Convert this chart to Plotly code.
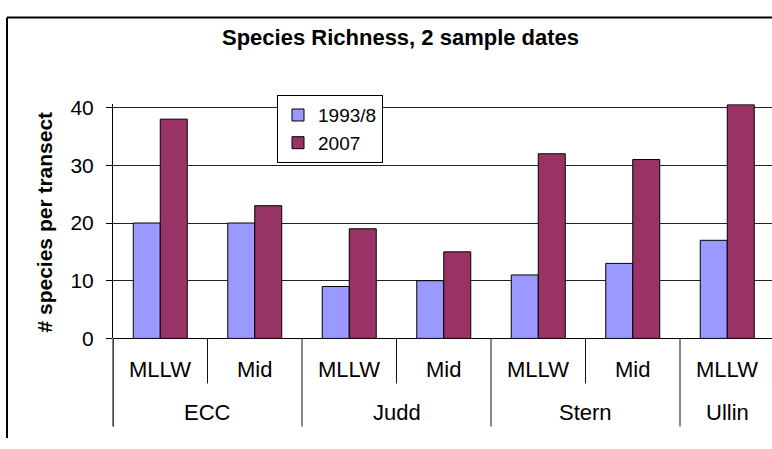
import plotly.graph_objects as go

# Species richness per transect, two sampling periods
sites = ["ECC", "ECC", "Judd", "Judd", "Stern", "Stern", "Ullin"]
zones = ["MLLW", "Mid", "MLLW", "Mid", "MLLW", "Mid", "MLLW"]
richness_1993 = [20, 20, 9, 10, 11, 13, 17]
richness_2007 = [38, 23, 19, 15, 32, 31, 40.5]
y_ticks = [0, 10, 20, 30, 40]

W, H = 772, 449
FONT = "Liberation Sans, Arial, sans-serif"

# plot-area geometry (pixels)
X0 = 113          # left edge of the plot area
CAT_W = 94.5      # width of one category slot
Y_ZERO = 345      # pixel row of value 0
Y_TOP = 100.4     # pixel row of the top of the value axis
Y_MAX = 40.6

def py(px):
    """pixel row -> paper fraction"""
    return (H - px) / H

def pxx(px):
    return px / W

idx = list(range(len(zones)))

fig = go.Figure()
fig.add_bar(x=idx, y=richness_1993, name="1993/8",
            marker=dict(color="#9999FF", line=dict(color="black", width=1)))
fig.add_bar(x=idx, y=richness_2007, name="2007",
            marker=dict(color="#993366", line=dict(color="black", width=1)))

shapes = []
annotations = []

# category dividers below the axis
for i in range(len(zones) + 1):
    b = i - 0.5
    is_group = i == 0 or i == len(zones) or sites[i] != sites[i - 1]
    shapes.append(dict(type="line", xref="x", yref="paper",
                       x0=b, x1=b, y0=py(Y_ZERO), y1=py(437 if is_group else 392),
                       line=dict(color="#111111", width=1)))

# zone labels
for i, z in enumerate(zones):
    annotations.append(dict(x=i, xref="x", y=py(377), yref="paper", text=z,
                            showarrow=False, yanchor="middle", xanchor="center",
                            font=dict(family=FONT, size=22, color="black")))

# site labels centred under their zones
start = 0
for i in range(1, len(sites) + 1):
    if i == len(sites) or sites[i] != sites[start]:
        annotations.append(dict(x=(start + i - 1) / 2, xref="x", y=py(422), yref="paper",
                                text=sites[start], showarrow=False,
                                yanchor="middle", xanchor="center",
                                font=dict(family=FONT, size=22, color="black")))
        start = i

# value axis line continues down through the label rows
shapes.append(dict(type="line", xref="paper", yref="paper",
                   x0=pxx(X0), x1=pxx(X0), y0=py(Y_ZERO), y1=py(437),
                   line=dict(color="black", width=1)))

# chart frame (left and top edges)
shapes.append(dict(type="line", xref="paper", yref="paper",
                   x0=pxx(7), x1=pxx(7), y0=py(10), y1=0,
                   line=dict(color="black", width=2)))
shapes.append(dict(type="line", xref="paper", yref="paper",
                   x0=pxx(7), x1=1, y0=py(10), y1=py(10),
                   line=dict(color="black", width=2)))

# title and axis title
annotations.append(dict(x=pxx(401), y=py(31), xref="paper", yref="paper",
                        text="<b>Species Richness, 2 sample dates</b>", showarrow=False,
                        xanchor="center", yanchor="middle",
                        font=dict(family=FONT, size=22, color="black")))
annotations.append(dict(x=pxx(45), y=py(224), xref="paper", yref="paper",
                        text="<b># species per transect</b>", showarrow=False,
                        textangle=-90, xanchor="center", yanchor="middle",
                        font=dict(family=FONT, size=21, color="black")))

fig.update_layout(
    width=W, height=H,
    margin=dict(l=0, r=0, t=0, b=0),
    paper_bgcolor="white", plot_bgcolor="white",
    barmode="group", bargap=1.5 / 3.5, bargroupgap=0,
    font=dict(family=FONT, size=21, color="black"),
    shapes=shapes, annotations=annotations,
    showlegend=True,
    legend=dict(x=pxx(277), y=py(91), xanchor="left", yanchor="top",
                bgcolor="white", bordercolor="black", borderwidth=1,
                font=dict(family=FONT, size=19, color="black"),
                itemwidth=30, tracegroupgap=0),
    xaxis=dict(domain=[pxx(X0), 1], range=[-0.5, -0.5 + (W - X0) / CAT_W],
               showgrid=False, showticklabels=False, zeroline=False,
               showline=False, ticks="", fixedrange=True),
    yaxis=dict(domain=[py(Y_ZERO), py(Y_TOP)], range=[0, Y_MAX],
               tickvals=y_ticks, ticks="outside", ticklen=6, tickcolor="black",
               showline=True, linecolor="black", linewidth=1,
               showgrid=True, gridcolor="#222222", gridwidth=1,
               zeroline=True, zerolinecolor="black", zerolinewidth=1,
               ticklabelstandoff=8,
               tickfont=dict(family=FONT, size=21, color="black")),
)

fig.write_html("out.html")
